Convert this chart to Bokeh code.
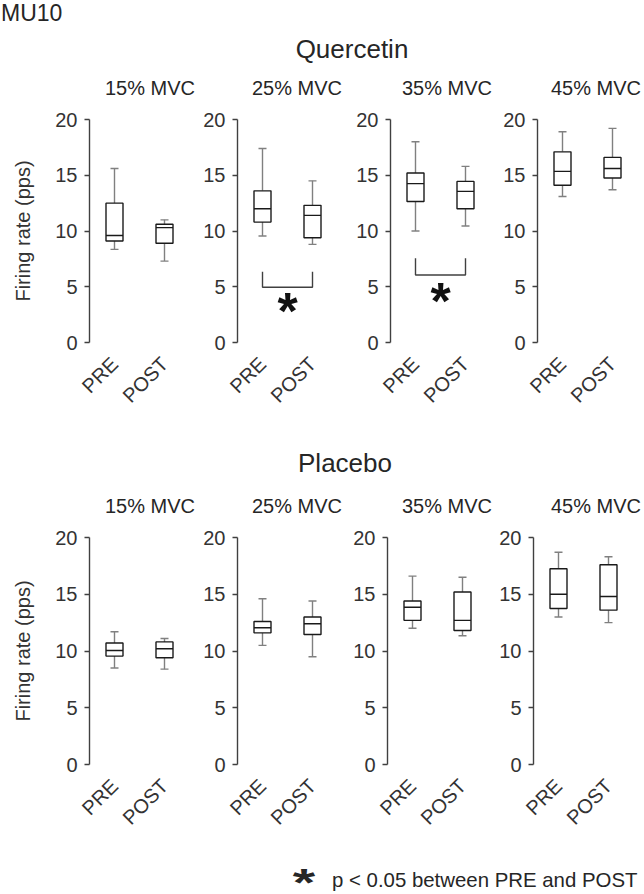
import math
from bokeh.plotting import figure
from bokeh.layouts import column, row
from bokeh.models import Div, Range1d, FactorRange, FixedTicker, ColumnDataSource
from bokeh.core.properties import value
from bokeh.embed import file_html
from bokeh.resources import INLINE

FONT = "Liberation Sans"

# ---------------- data ----------------
header = "MU10"
groups = ["Quercetin", "Placebo"]
conditions = ["15% MVC", "25% MVC", "35% MVC", "45% MVC"]
times = ["PRE", "POST"]
y_ticks = [0, 5, 10, 15, 20]
y_label = "Firing rate (pps)"
note_text = "p < 0.05 between PRE and POST"

# Quercetin, per condition: [PRE, POST]
quer_low = [[8.35, 7.3], [9.55, 8.8], [10.0, 10.45], [13.1, 13.7]]
quer_q1 = [[9.1, 8.9], [10.8, 9.4], [12.65, 12.0], [14.1, 14.75]]
quer_med = [[9.6, 10.3], [12.0, 11.4], [14.25, 13.55], [15.35, 15.6]]
quer_q3 = [[12.5, 10.6], [13.6, 12.3], [15.2, 14.45], [17.1, 16.6]]
quer_high = [[15.6, 11.0], [17.4, 14.5], [18.0, 15.8], [18.9, 19.2]]

# Placebo, per condition: [PRE, POST]
plac_low = [[8.5, 8.4], [10.5, 9.5], [12.0, 11.35], [13.0, 12.5]]
plac_q1 = [[9.55, 9.4], [11.6, 11.45], [12.7, 11.8], [13.75, 13.6]]
plac_med = [[10.05, 10.2], [12.05, 12.4], [13.85, 12.7], [15.0, 14.8]]
plac_q3 = [[10.7, 10.8], [12.6, 13.0], [14.4, 15.2], [17.25, 17.6]]
plac_high = [[11.7, 11.1], [14.6, 14.4], [16.6, 16.5], [18.7, 18.3]]

# significance brackets (Quercetin only)
quer_sig_cond = ["25% MVC", "35% MVC"]
quer_sig_top = [6.35, 7.55]
quer_sig_bottom = [4.95, 6.05]
quer_sig_star = [3.5, 4.4]

# ---------------- style ----------------
TXT = "#262626"
AX = "#404040"
BOX = "#1a1a1a"
WHISK = "#808080"

top_widths = [189, 148, 153, 154]
top_left = [89, 48, 53, 47]
top_right = [0, 0, 0, 7]
bot_widths = [189, 148, 150, 157]
bot_left = [89, 48, 50, 46]
bot_right = [0, 0, 0, 11]


def make_panel(ci, stats, sig, widths, lefts, rights, top_b, frame_h, bot_b):
    low, q1, med, q3, high = (s[ci] for s in stats)
    p = figure(x_range=FactorRange(factors=times), y_range=Range1d(0, 20),
               width=widths[ci], height=top_b + frame_h + bot_b,
               output_backend="svg", toolbar_location=None,
               min_border=0, min_border_left=lefts[ci],
               min_border_right=rights[ci], min_border_top=top_b,
               min_border_bottom=bot_b)
    p.outline_line_color = None
    p.background_fill_color = "white"
    p.border_fill_color = "white"
    p.xgrid.visible = False
    p.ygrid.visible = False

    ya = p.yaxis[0]
    ya.ticker = FixedTicker(ticks=y_ticks)
    ya.axis_line_color = AX
    ya.axis_line_width = 1.4
    ya.major_tick_line_color = AX
    ya.major_tick_line_width = 1.4
    ya.major_tick_out = 5
    ya.major_tick_in = 0
    ya.minor_tick_line_color = None
    ya.major_label_standoff = 7
    ya.major_label_text_font = FONT
    ya.major_label_text_font_size = "20px"
    ya.major_label_text_color = "#333333"
    if ci == 0:
        ya.axis_label = y_label
        ya.axis_label_text_font = FONT
        ya.axis_label_text_font_size = "20px"
        ya.axis_label_text_font_style = "normal"
        ya.axis_label_text_color = "#333333"
        ya.axis_label_standoff = 18

    xa = p.xaxis[0]
    xa.axis_line_color = None
    xa.major_tick_line_color = None
    xa.minor_tick_line_color = None
    xa.major_label_orientation = math.pi / 4
    xa.major_label_standoff = 12
    xa.major_label_text_font = FONT
    xa.major_label_text_font_size = "20px"
    xa.major_label_text_color = "#333333"

    src = ColumnDataSource(dict(t=times, low=low, q1=q1, med=med, q3=q3, high=high))
    p.segment(x0="t", y0="q3", x1="t", y1="high", source=src, line_color=WHISK, line_width=1.4)
    p.segment(x0="t", y0="low", x1="t", y1="q1", source=src, line_color=WHISK, line_width=1.4)
    p.scatter(x="t", y="high", marker="dash", size=8, line_color=WHISK, line_width=1.4, source=src)
    p.scatter(x="t", y="low", marker="dash", size=8, line_color=WHISK, line_width=1.4, source=src)
    p.vbar(x="t", bottom="q1", top="q3", width=0.34, fill_color="white",
           line_color=BOX, line_width=1.4, source=src)
    p.scatter(x="t", y="med", marker="dash", size=17, line_color=BOX, line_width=1.4, source=src)

    if sig is not None:
        top, bottom, star = sig
        p.line(x=[times[0], times[0], times[1], times[1]], y=[top, bottom, bottom, top],
               line_color=AX, line_width=1.4)
        mid = 0.5 * (times.index(times[0]) + times.index(times[1])) + 0.5
        p.text(x=[mid], y=[star], text=["*"], text_font=value(FONT),
               text_font_style="bold", text_font_size="52px", text_align="center",
               text_baseline="alphabetic", y_offset=8, text_color="#111111")
    return p


def sig_for(ci, sig_cond, tops, bottoms, stars):
    c = conditions[ci]
    if c in sig_cond:
        k = sig_cond.index(c)
        return (tops[k], bottoms[k], stars[k])
    return None


quer_stats = [quer_low, quer_q1, quer_med, quer_q3, quer_high]
plac_stats = [plac_low, plac_q1, plac_med, plac_q3, plac_high]

top_row = row([make_panel(ci, quer_stats,
                          sig_for(ci, quer_sig_cond, quer_sig_top, quer_sig_bottom, quer_sig_star),
                          top_widths, top_left, top_right, 12, 223, 98) for ci in range(4)])
bot_row = row([make_panel(ci, plac_stats, None, bot_widths, bot_left, bot_right,
                          12, 227, 81) for ci in range(4)])


def text_div(h, items):
    parts = []
    for (l, t, w, a, fs, fw, lh, extra, txt) in items:
        parts.append(
            f'<div style="position:absolute; left:{l}px; top:{t}px; width:{w}px; text-align:{a}; '
            f'font-family:\'{FONT}\'; font-size:{fs}px; font-weight:{fw}; line-height:{lh}; '
            f'white-space:nowrap; color:{TXT}; {extra}">{txt}</div>')
    html = f'<div style="position:relative; width:644px; height:{h}px">{"".join(parts)}</div>'
    return Div(text=html, width=644, height=h, margin=(0, 0, 0, 0))


label_centers = [150, 297, 447, 596]

div_top = text_div(107, [(1, 2, 80, "left", 23, "normal", 1, "", header),
                         (252, 36, 200, "center", 26, "normal", 1, "", groups[0])]
                   + [(c - 48, 78, 96, "center", 20, "normal", 1, "", conditions[i])
                      for i, c in enumerate(label_centers)])
div_mid = text_div(85, [(245, 10, 200, "center", 26, "normal", 1, "", groups[1])]
                   + [(c - 48, 56, 96, "center", 20, "normal", 1, "", conditions[i])
                      for i, c in enumerate(label_centers)])
div_note = text_div(49, [(284, 31, 40, "center", 46, "bold", 0.3,
                          "transform:scale(1.25,0.85);", "*"),
                         (332, 25, 305, "left", 20.4, "normal", 1, "",
                          note_text.replace("<", "&lt;"))])

layout = column([div_top, top_row, div_mid, bot_row, div_note])

open("out.html", "w").write(file_html(layout, INLINE))
